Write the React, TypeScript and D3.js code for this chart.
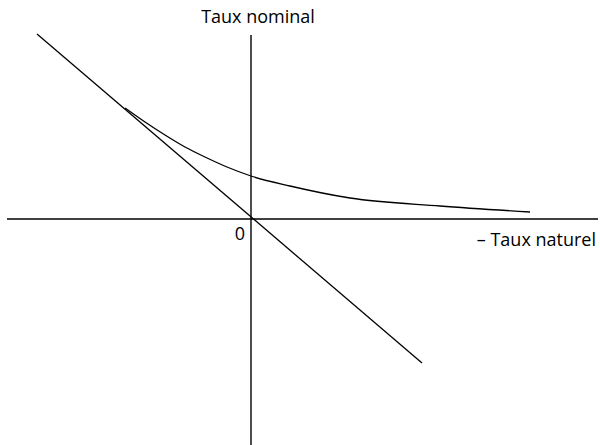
import React from "react";
import * as d3 from "d3";

const WIDTH = 600;
const HEIGHT = 445;

// Axis extents (data units)
const xAxisExtent: [number, number] = [-6.1, 8.675];
const yAxisExtent: [number, number] = [-5.7, 4.6];

// Diagonal line (slope about -1 through origin)
const diagonalX = [-5.35, 4.275];
const diagonalY = [4.625, -3.6];

// Curve of nominal rate
const curveX = [-3.15, -2.65, -2.15, -1.65, -1.15, -0.6, 0, 0.975, 2.475, 4.725, 6.975];
const curveY = [2.775, 2.425, 2.1, 1.8, 1.55, 1.3, 1.075, 0.825, 0.525, 0.325, 0.175];

const labels = {
  yTitle: "Taux nominal",
  xTitle: "– Taux naturel",
  origin: "0",
};

export default function App() {
  const x = d3.scaleLinear().domain([-6.1, 8.675]).range([7, 598]);
  const y = d3.scaleLinear().domain([4.6, -5.7]).range([35, 447]);

  const diag = diagonalX.map((d, i) => [d, diagonalY[i]] as [number, number]);
  const curve = curveX.map((d, i) => [d, curveY[i]] as [number, number]);

  const line = d3
    .line<[number, number]>()
    .x((d) => x(d[0]))
    .y((d) => y(d[1]));
  const smooth = d3
    .line<[number, number]>()
    .x((d) => x(d[0]))
    .y((d) => y(d[1]))
    .curve(d3.curveMonotoneX);

  const font = "'Open Sans', 'Noto Sans', sans-serif";

  return (
    <svg
      width={WIDTH}
      height={HEIGHT}
      style={{ position: "absolute", left: 0, top: 0, background: "#fff" }}
    >
      <line
        x1={x(xAxisExtent[0])}
        x2={x(xAxisExtent[1])}
        y1={y(0)}
        y2={y(0)}
        stroke="#000"
        strokeWidth={1.4}
      />
      <line
        x1={x(0)}
        x2={x(0)}
        y1={y(yAxisExtent[1])}
        y2={y(yAxisExtent[0])}
        stroke="#000"
        strokeWidth={1.4}
      />
      <path d={line(diag) || ""} fill="none" stroke="#000" strokeWidth={1.3} />
      <path d={smooth(curve) || ""} fill="none" stroke="#000" strokeWidth={1.3} />
      <text
        x={x(0) + 7}
        y={23}
        textAnchor="middle"
        fontFamily={font}
        fontSize={18}
        fill="#000"
      >
        {labels.yTitle}
      </text>
      <text
        x={596}
        y={246}
        textAnchor="end"
        fontFamily={font}
        fontSize={18}
        fill="#000"
      >
        {labels.xTitle}
      </text>
      <text
        x={x(0) - 6}
        y={240}
        textAnchor="end"
        fontFamily={font}
        fontSize={18}
        fill="#000"
      >
        {labels.origin}
      </text>
    </svg>
  );
}
